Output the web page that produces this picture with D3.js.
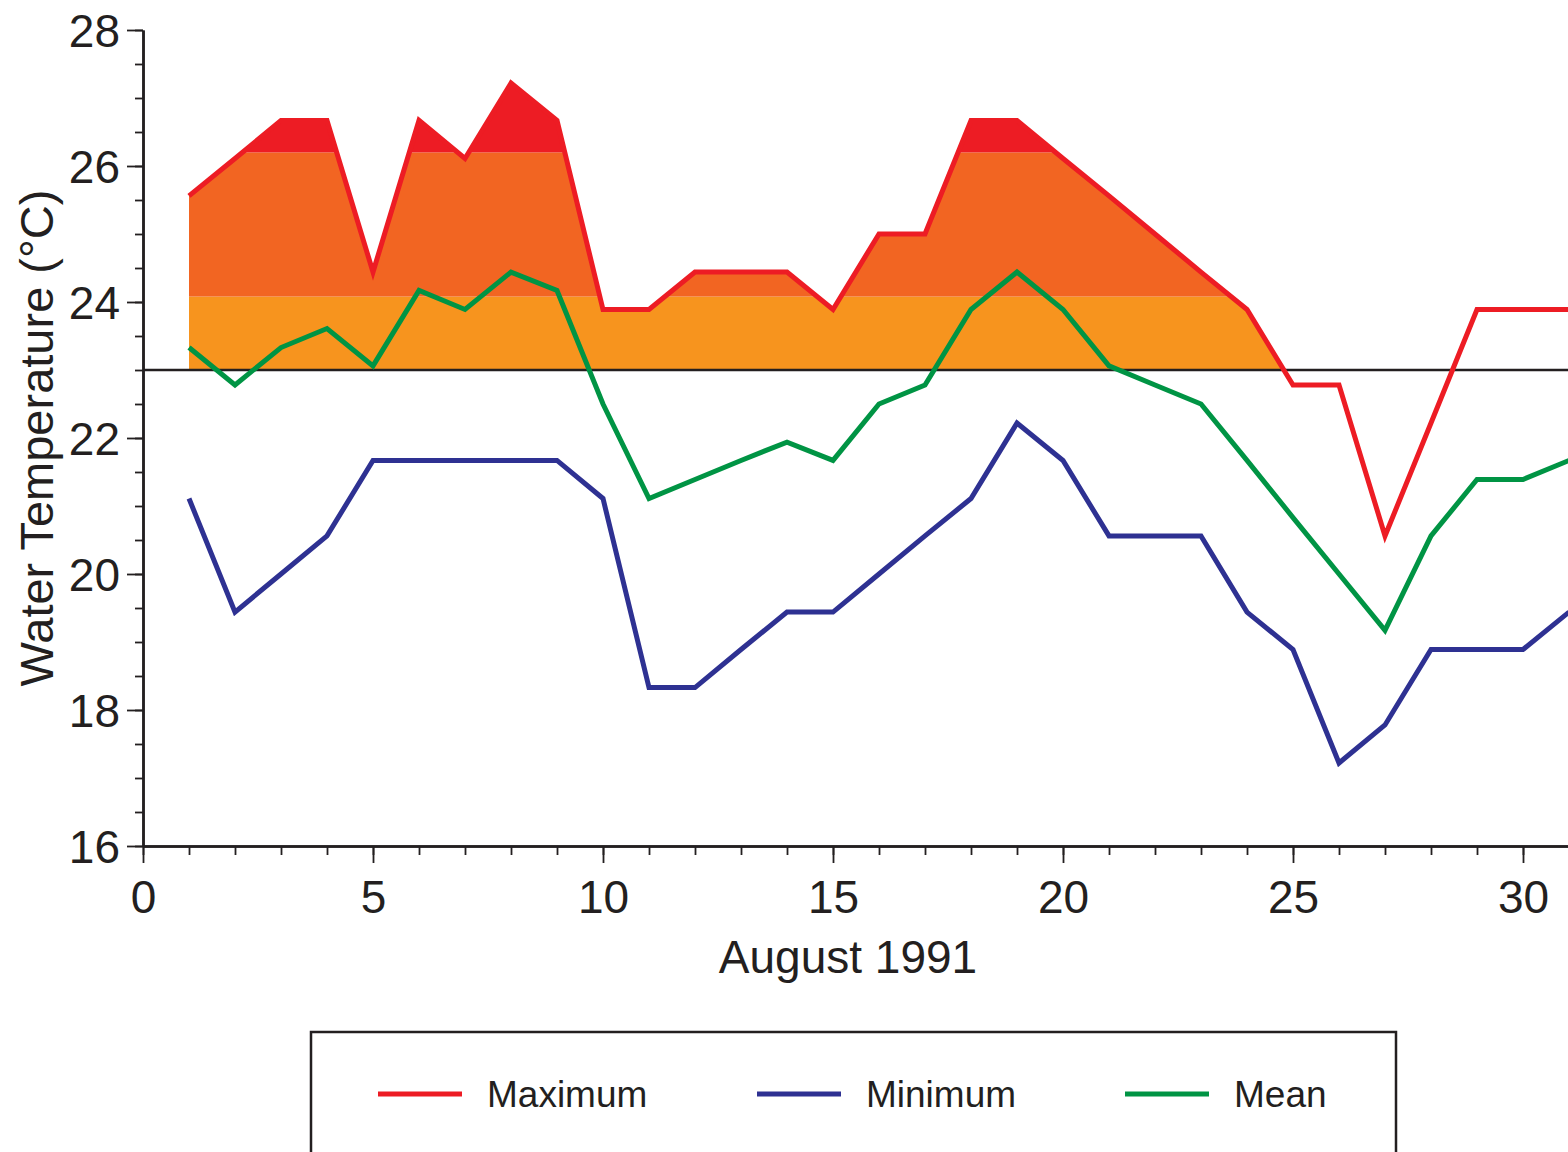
<!DOCTYPE html>
<html>
<head>
<meta charset="utf-8">
<script src="https://cdn.jsdelivr.net/npm/d3@7"></script>
<style>
  body { margin: 0; background: #fff; }
  text { font-family: "Liberation Sans", Arial, Helvetica, sans-serif; fill: #231f20; }
</style>
</head>
<body>
<div id="chart"></div>
<script>
// Daily water temperature, August 1991 (deg C)
const days = d3.range(1, 32);
const maxTemp = [25.56, 26.11, 26.67, 26.67, 24.44, 26.67, 26.11, 27.22, 26.67, 23.89,
                 23.89, 24.44, 24.44, 24.44, 23.89, 25.0, 25.0, 26.67, 26.67, 26.11,
                 25.56, 25.0, 24.44, 23.89, 22.78, 22.78, 20.56, 22.22, 23.89, 23.89, 23.89];
const minTemp = [21.11, 19.44, 20.0, 20.56, 21.67, 21.67, 21.67, 21.67, 21.67, 21.11,
                 18.33, 18.33, 18.89, 19.44, 19.44, 20.0, 20.56, 21.11, 22.22, 21.67,
                 20.56, 20.56, 20.56, 19.44, 18.89, 17.22, 17.78, 18.89, 18.89, 18.89, 19.44];
const meanTemp = [23.33, 22.78, 23.33, 23.61, 23.06, 24.17, 23.89, 24.44, 24.17, 22.5,
                  21.11, 21.39, 21.67, 21.94, 21.67, 22.5, 22.78, 23.89, 24.44, 23.89,
                  23.06, 22.78, 22.5, 21.67, 20.83, 20.0, 19.17, 20.56, 21.39, 21.39, 21.67];

// threshold line and shaded bands above it (filled only for days 1-25)
const threshold = 23;
const fillDays = [1, 25];
const bandEdges = [23, 24.08, 26.2, 28];
const bandColors = ["#f7941e", "#f26522", "#ed1c24"];

const xMajor = [0, 5, 10, 15, 20, 25, 30];
const yMajor = [16, 18, 20, 22, 24, 26, 28];

const series = [
    { name: "Maximum", values: maxTemp, color: "#ed1c24" },
    { name: "Minimum", values: minTemp, color: "#2e3192" },
    { name: "Mean", values: meanTemp, color: "#009444" }
];

const W = 1568, H = 1152;
const margin = { top: 30, left: 143 };
const plotH = 816;

const svg = d3.select("#chart")
    .append("svg")
    .attr("width", W)
    .attr("height", H);

const x = d3.scaleLinear().domain([0, 31]).range([margin.left, margin.left + 31 * 46]);
const y = d3.scaleLinear().domain([16, 28]).range([margin.top + plotH, margin.top]);

// Shaded area between the maximum curve and the threshold
const fillData = days.map((d, i) => ({ day: d, v: maxTemp[i] }))
    .filter(d => d.day >= fillDays[0] && d.day <= fillDays[1]);

const area = d3.area()
    .x(d => x(d.day))
    .y0(y(threshold))
    .y1(d => y(d.v));

svg.append("clipPath")
    .attr("id", "maxClip")
    .append("path")
    .attr("d", area(fillData));

svg.append("g")
    .attr("clip-path", "url(#maxClip)")
    .selectAll("rect")
    .data(bandColors)
    .join("rect")
    .attr("x", x(fillDays[0]))
    .attr("width", x(fillDays[1]) - x(fillDays[0]))
    .attr("y", (c, i) => y(bandEdges[i + 1]))
    .attr("height", (c, i) => y(bandEdges[i]) - y(bandEdges[i + 1]))
    .attr("fill", c => c);

// Threshold line
svg.append("line")
    .attr("x1", x(0)).attr("x2", W)
    .attr("y1", y(threshold)).attr("y2", y(threshold))
    .attr("stroke", "#231f20")
    .attr("stroke-width", 2.5);

// Data lines
const line = d3.line()
    .x((v, i) => x(days[i]))
    .y(v => y(v));

svg.selectAll("path.series")
    .data(series)
    .join("path")
    .attr("class", "series")
    .attr("d", d => line(d.values))
    .attr("fill", "none")
    .attr("stroke", d => d.color)
    .attr("stroke-width", 5)
    .attr("stroke-linejoin", "miter");

// Axes
const styleAxis = g => {
    g.select(".domain").attr("stroke", "#231f20").attr("stroke-width", 2.5);
    g.selectAll(".tick line").attr("stroke", "#231f20").attr("stroke-width", 1.8);
    g.selectAll(".tick text").style("font-size", "46px").attr("fill", "#231f20");
};

// minor y ticks
svg.append("g")
    .attr("transform", `translate(${margin.left},0)`)
    .call(d3.axisLeft(y).tickValues(d3.range(16, 28.01, 0.5)).tickSize(8).tickSizeOuter(0).tickFormat(""))
    .call(styleAxis);

svg.append("g")
    .attr("transform", `translate(${margin.left},0)`)
    .call(d3.axisLeft(y).tickValues(yMajor).tickSize(16).tickSizeOuter(0).tickPadding(7))
    .call(styleAxis)
    .call(g => g.selectAll(".tick text").attr("dy", "0.36em"));

// minor x ticks
svg.append("g")
    .attr("transform", `translate(0,${y(16)})`)
    .call(d3.axisBottom(x).tickValues(d3.range(0, 32)).tickSize(9).tickSizeOuter(0).tickFormat(""))
    .call(styleAxis);

svg.append("g")
    .attr("transform", `translate(0,${y(16)})`)
    .call(d3.axisBottom(x).tickValues(xMajor).tickSize(17).tickSizeOuter(0).tickPadding(17))
    .call(styleAxis);

// Axis titles
svg.append("text")
    .attr("x", 848)
    .attr("y", 973)
    .attr("text-anchor", "middle")
    .style("font-size", "46px")
    .attr("fill", "#3a3a3c")
    .text("August 1991");

svg.append("text")
    .attr("transform", `translate(53,${(y(16) + y(28)) / 2}) rotate(-90)`)
    .attr("text-anchor", "middle")
    .style("font-size", "47px")
    .attr("fill", "#3a3a3c")
    .text("Water Temperature (°C)");

// Legend
const legend = svg.append("g");
legend.append("rect")
    .attr("x", 311).attr("y", 1032)
    .attr("width", 1085).attr("height", 200)
    .attr("fill", "none")
    .attr("stroke", "#231f20")
    .attr("stroke-width", 2.5);

const legendX = [378, 757, 1125];
const item = legend.selectAll("g.item")
    .data(series)
    .join("g")
    .attr("class", "item")
    .attr("transform", (d, i) => `translate(${legendX[i]},1094)`);

item.append("line")
    .attr("x1", 0).attr("x2", 84)
    .attr("stroke", d => d.color)
    .attr("stroke-width", 5);

item.append("text")
    .attr("x", 109)
    .attr("y", 13)
    .style("font-size", "37px")
    .text(d => d.name);
</script>
</body>
</html>
